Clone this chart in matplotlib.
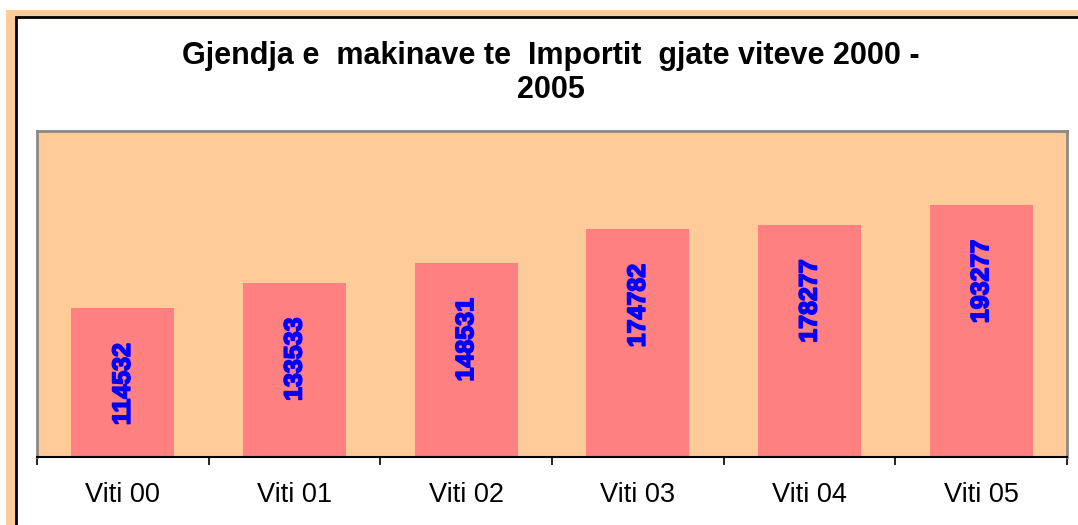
import matplotlib
matplotlib.use("Agg")
import matplotlib.pyplot as plt
import matplotlib.patheffects as pe
from matplotlib.patches import Rectangle

# data
categories = ["Viti 00", "Viti 01", "Viti 02", "Viti 03", "Viti 04", "Viti 05"]
values = [114532, 133533, 148531, 174782, 178277, 193277]
title = "Gjendja e  makinave te  Importit  gjate viteve 2000 -\n2005"

W, H = 1078, 525
fig = plt.figure(figsize=(W / 100, H / 100), dpi=100)
fig.patch.set_facecolor("white")

# peach outer frame and black inner border (pixel coords -> figure fraction)
def px(x, y):
    return x / W, 1 - y / H

fig.patches.append(Rectangle(px(6, 600), 2000 / W, (600 - 10) / H,
                             transform=fig.transFigure, facecolor="#FFCC99",
                             edgecolor="none", zorder=-10))
fig.patches.append(Rectangle(px(16, 600), 2000 / W, (600 - 17) / H,
                             transform=fig.transFigure, facecolor="white",
                             edgecolor="black", linewidth=2, zorder=-9))

ax = fig.add_axes([37 / W, (H - 457) / H, (1067 - 37) / W, (457 - 131) / H])
ax.set_facecolor("#FFCC99")
x = list(range(len(categories)))
ax.bar(x, values, width=0.6, color="#FF8080", zorder=2)

ax.set_xlim(-0.5, len(categories) - 0.5)
ax.set_ylim(0, 250000)
ax.set_yticks([])

# ticks at category boundaries, labels centred
ax.set_xticks([i - 0.5 for i in range(len(categories) + 1)])
ax.set_xticklabels([])
ax.tick_params(axis="x", which="major", direction="out", length=6, width=1.2, color="black")
ax.set_xticks(x, minor=True)
ax.set_xticklabels(categories, minor=True, fontsize=19.5, family="Liberation Sans")
ax.tick_params(axis="x", which="minor", length=0, pad=18)

for side in ["top", "left", "right"]:
    ax.spines[side].set_color("#8C8A84")
    ax.spines[side].set_linewidth(2)
ax.spines["bottom"].set_color("black")
ax.spines["bottom"].set_linewidth(1.5)

for xi, v in zip(x, values):
    ax.annotate(str(v), (xi, v), xytext=(0, -55), textcoords="offset points",
                rotation=90, ha="center", va="center", color="#0000FF",
                fontsize=18, fontweight="bold", family="Liberation Sans",
                path_effects=[pe.withStroke(linewidth=1.2, foreground="#0000FF")])

fig.text(551 / W, 1 - 73 / H, title, ha="center", va="center",
         fontsize=22, fontweight="bold", family="Liberation Sans",
         linespacing=1.15)

fig.savefig("out.png", dpi=100, facecolor=fig.get_facecolor())
